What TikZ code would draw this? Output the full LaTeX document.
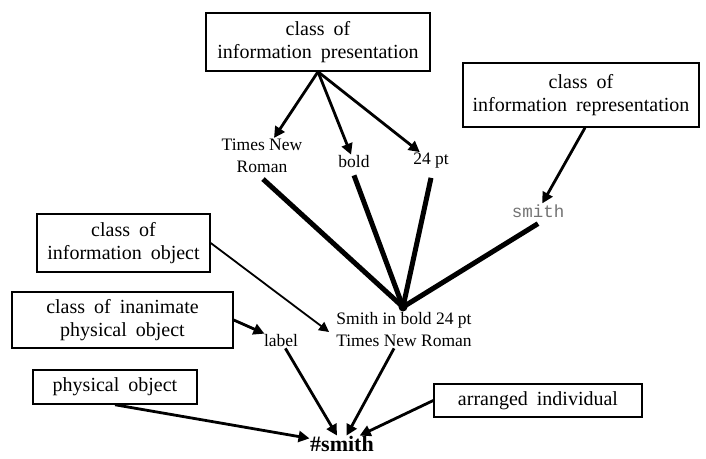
\documentclass[tikz,border=0pt]{standalone}
\usepackage{fontspec}
\setmainfont{Liberation Serif}
\setmonofont{Liberation Mono}
\usetikzlibrary{arrows.meta,calc}
\begin{document}
\begin{tikzpicture}[x=1pt,y=-1pt,
  box/.style={draw,line width=1.5pt,align=center,inner sep=0pt,
    font=\fontsize{20}{23}\selectfont,execute at begin node={\spaceskip=0.45em\relax}},
  lbl/.style={align=center,inner sep=1pt,font=\fontsize{17.5}{22}\selectfont},
  arr/.style={line width=2.8pt,-{Triangle[length=11pt,width=11pt]}},
  thinarr/.style={line width=1.8pt,-{Triangle[length=10pt,width=10pt]}},
  heavy/.style={line width=5pt}]
\useasboundingbox (0,0) rectangle (706,458);
% boxes
\node[box,minimum width=224pt,minimum height=58pt] (b1) at (318,42) {class of\\information presentation};
\node[box,minimum width=236pt,minimum height=64pt] (b2) at (581,95) {class of\\information representation};
\node[box,minimum width=173pt,minimum height=58pt] (b3) at (123.5,243) {class of\\information object};
\node[box,minimum width=221pt,minimum height=56pt] (b4) at (122.5,320) {class of inanimate\\physical object};
\node[box,minimum width=164pt,minimum height=34pt] (b5) at (115,387) {physical object};
\node[box,minimum width=208pt,minimum height=33pt] (b6) at (538,400.5) {arranged individual};
% labels
\node[lbl] (tnr) at (262,156) {Times New\\Roman};
\node[lbl] (bold) at (354,162) {bold};
\node[lbl] (pt) at (431,161) {24 pt};
\node[lbl,font=\fontsize{17.5}{22}\ttfamily,text=black!55] (smith) at (538,211) {smith};
\node[lbl] (sib) at (404,330) {Smith in bold 24 pt\\Times New Roman};
\node[lbl] (label) at (281,341) {label};
\node[lbl,inner sep=0.5pt,font=\fontsize{22}{26}\selectfont\bfseries] (hs) at (342,444) {\#smith};
\node[circle,fill=black,inner sep=0pt,minimum size=9pt] (dot) at (403,307) {};
% arrows from class of information presentation
\draw[arr] (b1.south) -- (tnr);
\draw[arr] (b1.south) -- (bold);
\draw[arr] (b1.south) -- (pt);
\draw[arr] ([xshift=4pt]b2.south) -- (smith);
% heavy lines to dot
\draw[heavy] ([shift={(1pt,-5pt)}]tnr.south) -- (dot.center);
\draw[heavy] ([yshift=-6pt]bold.south) -- (dot.center);
\draw[heavy] ([yshift=-8pt]pt.south) -- (dot.center);
\draw[heavy] ([yshift=-5pt]smith.south) -- (dot.center);
% other arrows
\draw[thinarr] (b3.east) -- ([xshift=-6pt,yshift=-2pt]sib.west);
\draw[arr] (b4.east) -- (label);
\draw[arr] (label) -- (hs);
\draw[arr] (sib) -- (hs);
\draw[arr] (b5.south) -- (hs);
\draw[arr] (b6.west) -- (hs);
\end{tikzpicture}
\end{document}
